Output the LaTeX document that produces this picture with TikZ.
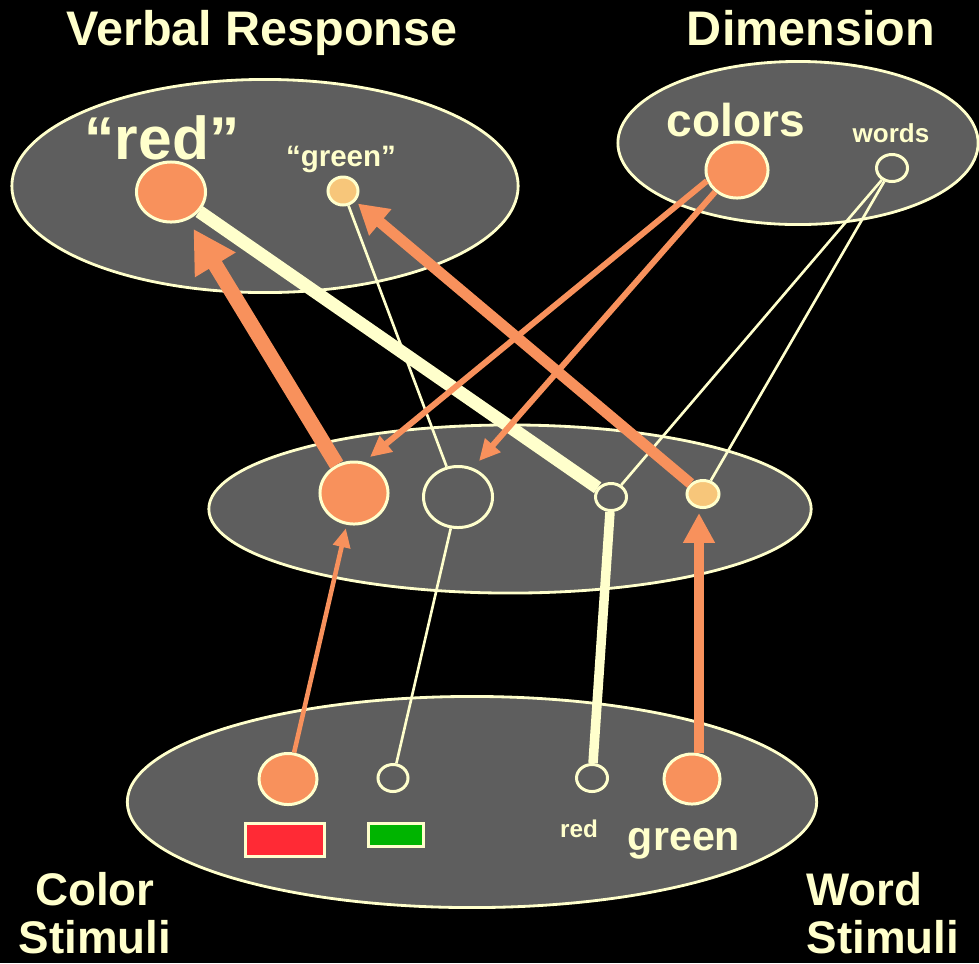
\documentclass[tikz,border=0pt]{standalone}
\usepackage{fontspec}
\setmainfont{Liberation Sans}
\usetikzlibrary{shapes.geometric,arrows.meta}

\definecolor{cream}{HTML}{FFFFCC}
\definecolor{panel}{HTML}{5E5E5E}
\definecolor{hot}{HTML}{F8915C}
\definecolor{warm}{HTML}{F7C67A}
\definecolor{swred}{HTML}{FF2A35}
\definecolor{swgreen}{HTML}{00B400}

\newcommand{\fsz}[1]{\fontsize{#1}{#1}\selectfont\bfseries}

\tikzset{
  group/.style={ellipse, draw=cream, fill=panel, line width=0.8pt, inner sep=0pt},
  unit/.style={ellipse, draw=cream, line width=0.85pt, inner sep=0pt},
  swatch/.style={rectangle, draw=cream, line width=0.7pt, inner sep=0pt},
  label/.style={text=cream, anchor=base, inner sep=0pt},
  thinlink/.style={draw=cream, line width=0.75pt},
  thicklink/.style={draw=cream, line width=3.7pt},
  stemlink/.style={draw=cream, line width=2.7pt},
  bigarrow/.style={draw=hot, line width=4.3pt, -{Triangle[length=12pt,width=12.7pt]}, shorten >=3pt},
  midarrow/.style={draw=hot, line width=3.1pt, -{Triangle[length=8.3pt,width=9.3pt]}, shorten >=1pt},
  uparrow/.style={draw=hot, line width=2.8pt, -{Triangle[length=8.5pt,width=8.5pt]}},
  thinarrow/.style={draw=hot, line width=1.7pt, -{Triangle[length=6pt,width=5.6pt]}},
  smallarrow/.style={draw=hot, line width=1.3pt, -{Triangle[length=5.4pt,width=4.8pt]}, shorten >=1pt},
}

\begin{document}
\begin{tikzpicture}[x=0.01cm, y=-0.01cm]
  % background and extent
  \fill[black] (0,0) rectangle (979,963);
  \useasboundingbox (0,0) rectangle (979,963);

  % four layers of units
  \node[group, minimum width=5.06cm, minimum height=2.13cm] (verbal) at (265,186) {};
  \node[group, minimum width=3.60cm, minimum height=1.63cm] (dimension) at (798,143) {};
  \node[group, minimum width=6.02cm, minimum height=1.68cm] (hidden) at (510,509) {};
  \node[group, minimum width=6.89cm, minimum height=2.11cm] (stimuli) at (472,802) {};

  % response units
  \node[unit, fill=hot, minimum width=0.69cm, minimum height=0.60cm] (sayRed) at (171,192) {};
  \node[unit, fill=warm, minimum width=0.30cm, minimum height=0.28cm] (sayGreen) at (343,191) {};

  % dimension units
  \node[unit, fill=hot, minimum width=0.62cm, minimum height=0.56cm] (colors) at (737,170) {};
  \node[unit, minimum width=0.31cm, minimum height=0.27cm] (words) at (892,168) {};

  % intermediate units
  \node[unit, fill=hot, minimum width=0.68cm, minimum height=0.62cm] (midRed) at (354,493) {};
  \node[unit, minimum width=0.69cm, minimum height=0.61cm] (midGreen) at (458,497) {};
  \node[unit, minimum width=0.31cm, minimum height=0.27cm] (midWordRed) at (611,497) {};
  \node[unit, fill=warm, minimum width=0.32cm, minimum height=0.27cm] (midWordGreen) at (703,494) {};

  % input units
  \node[unit, fill=hot, minimum width=0.58cm, minimum height=0.51cm] (inRed) at (288,779) {};
  \node[unit, minimum width=0.30cm, minimum height=0.27cm] (inGreen) at (393,778) {};
  \node[unit, minimum width=0.31cm, minimum height=0.27cm] (inWordRed) at (592,778) {};
  \node[unit, fill=hot, minimum width=0.56cm, minimum height=0.50cm] (inWordGreen) at (692,779) {};

  % colour swatches
  \node[swatch, fill=swred, minimum width=0.79cm, minimum height=0.33cm] (redPatch) at (285,840) {};
  \node[swatch, fill=swgreen, minimum width=0.55cm, minimum height=0.23cm] (greenPatch) at (396,835) {};

  % free ends of the arrows that stop short of a unit
  \coordinate (toRed) at (370,457);
  \coordinate (toGreen) at (479,461);
  \coordinate (upTip) at (699,513);

  % cream pathways
  \draw[thicklink] (sayRed) -- (midWordRed);
  \draw[thinlink] (sayGreen) -- (midGreen);
  \draw[thinlink] (words) -- (midWordRed);
  \draw[thinlink] (words) -- (midWordGreen);
  \draw[thinlink] (inGreen) -- (midGreen);
  \draw[stemlink] (inWordRed) -- (midWordRed);

  % orange pathways
  \draw[thinarrow] (colors.200) -- (toRed);
  \draw[thinarrow] (colors.225) -- (toGreen);
  \draw[bigarrow] (midRed) -- (sayRed);
  \draw[midarrow] (midWordGreen) -- (sayGreen);
  \draw[smallarrow] (inRed) -- (midRed);
  \draw[uparrow] (inWordGreen.north -| upTip) -- (upTip);

  % labels
  \node[label, font=\fsz{13.8}] (tVerbal) at (262,45) {Verbal Response};
  \node[label, font=\fsz{13.8}] (tDim) at (811,45) {Dimension};
  \node[label, font=\fsz{17.2}] (tRed) at (162,159) {“red”};
  \node[label, font=\fsz{8.4}] (tGreen) at (341,166) {“green”};
  \node[label, font=\fsz{13.1}] (tColors) at (736,136) {colors};
  \node[label, font=\fsz{7.4}] (tWords) at (891,142) {words};
  \node[label, font=\fsz{6.9}] (tInRed) at (579,837) {red};
  \node[label, font=\fsz{11.7}] (tInGreen) at (684,850) {green};
  \node[label, font=\fsz{13}] (tColor1) at (95,905) {Color};
  \node[label, font=\fsz{13}] (tColor2) at (95,953) {Stimuli};
  \node[label, font=\fsz{13}] (tWord1) at (864,905) {Word};
  \node[label, font=\fsz{13}] (tWord2) at (883,953) {Stimuli};
\end{tikzpicture}
\end{document}
